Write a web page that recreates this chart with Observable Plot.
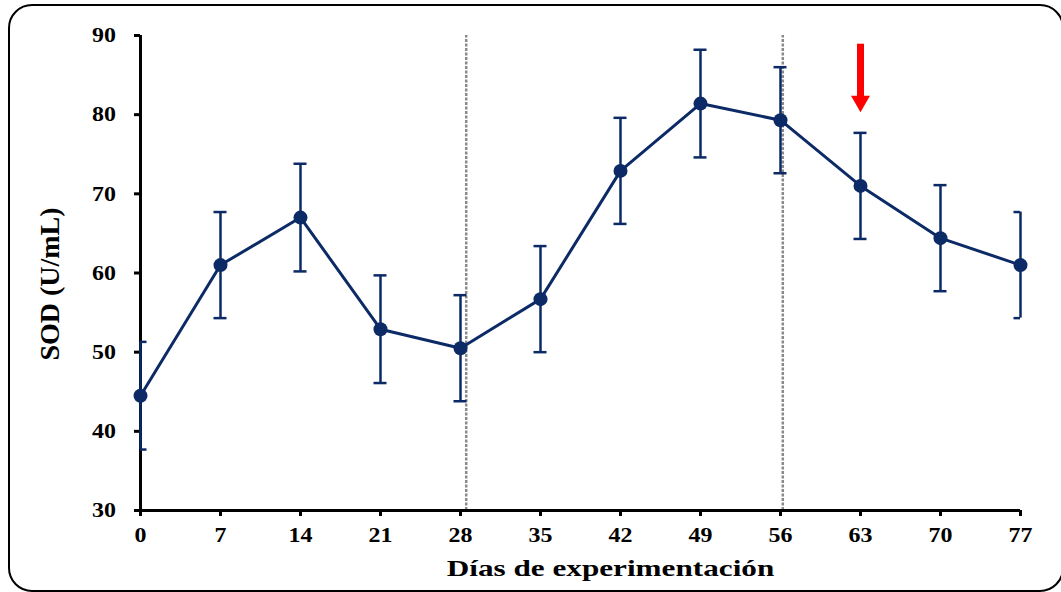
<!DOCTYPE html>
<html>
<head>
<meta charset="utf-8">
<script src="https://cdn.jsdelivr.net/npm/d3@7"></script>
<script src="https://cdn.jsdelivr.net/npm/@observablehq/plot@0.6"></script>
<style>
  html, body { margin: 0; padding: 0; background: #fff; overflow: hidden; }
  #wrap { position: relative; width: 1061px; height: 592px; }
  #frame { position: absolute; left: 8px; top: 4px; width: 1056px; height: 588px;
           box-sizing: border-box; border: 2px solid #000; border-radius: 24px; pointer-events: none; }
  #chart { position: absolute; left: 0; top: 0; }
</style>
</head>
<body>
<div id="wrap"><div id="chart"></div><div id="frame"></div></div>
<script>
// Data
const days   = [0, 7, 14, 21, 28, 35, 42, 49, 56, 63, 70, 77];
const sod    = [44.5, 61.0, 67.0, 52.9, 50.5, 56.7, 72.9, 81.4, 79.3, 71.0, 64.4, 61.0];
const sodErr = [6.8, 6.7, 6.8, 6.8, 6.7, 6.7, 6.7, 6.8, 6.7, 6.7, 6.7, 6.7];
const xTicks = [0, 7, 14, 21, 28, 35, 42, 49, 56, 63, 70, 77];
const yTicks = [30, 40, 50, 60, 70, 80, 90];
const dividerDays = [28.5, 56.2];
const arrowDay = [63];
const arrowShaft = [88.9, 82.0];   // y values of shaft top/bottom
const arrowHead = [81.7];          // y value of arrow head
const xLabel = "Días de experimentación";
const yLabel = "SOD (U/mL)";

const navy = "#0c2a66";
const capHalf = 0.57;

const data = days.map((d, i) => ({day: d, v: sod[i], lo: sod[i] - sodErr[i], hi: sod[i] + sodErr[i]}));

const plot = Plot.plot({
  width: 1061,
  height: 592,
  marginLeft: 140,
  marginRight: 41,
  marginTop: 35,
  marginBottom: 82,
  style: {fontFamily: "'Liberation Serif', 'Times New Roman', serif", fontWeight: "bold", fontSize: "21px", color: "#000", background: "transparent"},
  x: {domain: [0, 77], axis: null},
  y: {domain: [30, 90], axis: null},
  marks: [
    Plot.ruleX(dividerDays, {x: d => d, y1: 30, y2: 90, stroke: "#8a8a8a", strokeWidth: 2.5, strokeDasharray: "3,1.5"}),
    Plot.axisX({ticks: xTicks, tickSize: 6, tickPadding: 11, tickFormat: d => String(d), strokeWidth: 3, label: null}),
    Plot.axisY({ticks: yTicks, tickSize: 6, tickPadding: 20, tickFormat: d => String(d), strokeWidth: 3, label: null}),
    Plot.ruleY([30], {stroke: "#000", strokeWidth: 3}),
    Plot.ruleX([0], {stroke: "#000", strokeWidth: 3}),
    Plot.ruleX(data, {x: "day", y1: "lo", y2: "hi", stroke: navy, strokeWidth: 2.5}),
    Plot.ruleY(data, {y: "hi", x1: d => d.day - capHalf, x2: d => d.day + capHalf, stroke: navy, strokeWidth: 2.5, clip: true}),
    Plot.ruleY(data, {y: "lo", x1: d => d.day - capHalf, x2: d => d.day + capHalf, stroke: navy, strokeWidth: 2.5, clip: true}),
    Plot.line(data, {x: "day", y: "v", stroke: navy, strokeWidth: 3}),
    Plot.dot(data, {x: "day", y: "v", r: 7, fill: navy, stroke: "none"}),
    Plot.ruleX(arrowDay, {x: d => d, y1: arrowShaft[0], y2: arrowShaft[1], stroke: "#ff0000", strokeWidth: 7}),
    Plot.dot(arrowDay, {x: d => d, y: arrowHead[0], symbol: "triangle", r: 7.05, rotate: 180, fill: "#ff0000", stroke: "none"}),
    Plot.text([xLabel], {text: d => d, frameAnchor: "bottom", textAnchor: "middle", lineAnchor: "bottom", dx: 30, dy: 65, fontSize: 24, fontWeight: "bold", fill: "#000"}),
    Plot.text([yLabel], {text: d => d, frameAnchor: "left", textAnchor: "middle", rotate: -90, lineAnchor: "bottom", dx: -82, dy: 11, fontSize: 28, fontWeight: "bold", fill: "#000"})
  ]
});

document.getElementById("chart").append(plot);

function stretch(el, s) {
  const b = el.getBBox();
  const cx = b.x + b.width / 2, cy = b.y + b.height / 2;
  const t = el.getAttribute("transform") || "";
  el.setAttribute("transform", `${t} translate(${cx},${cy}) scale(${s},1) translate(${-cx},${-cy})`);
}
plot.querySelectorAll('[aria-label="x-axis tick label"] text, [aria-label="y-axis tick label"] text').forEach(el => stretch(el, 1.14));
Array.from(plot.querySelectorAll("text")).filter(el => el.textContent === xLabel).forEach(el => stretch(el, 1.3));
</script>
</body>
</html>
